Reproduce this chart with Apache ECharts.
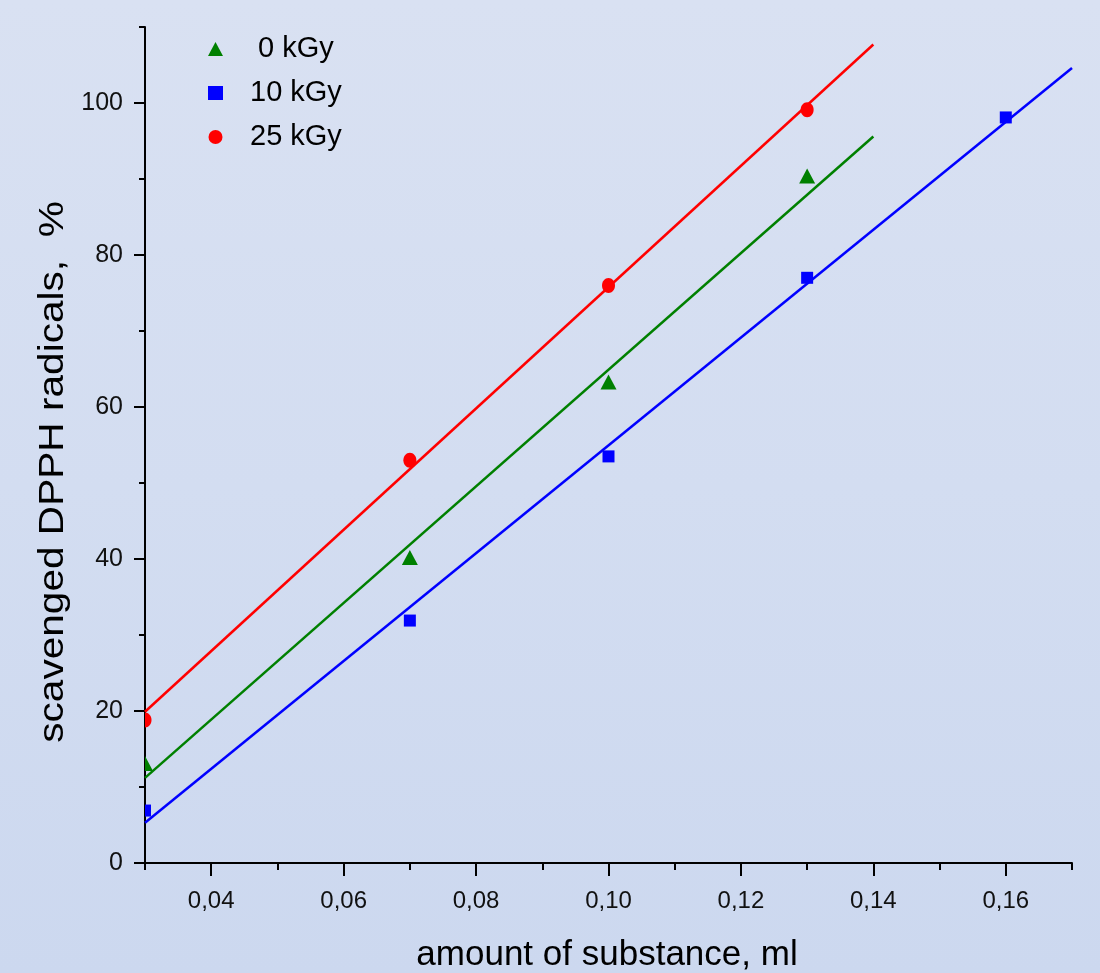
<!DOCTYPE html>
<html>
<head>
<meta charset="utf-8">
<script src="https://cdn.jsdelivr.net/npm/echarts@6/dist/echarts.min.js"></script>
<style>
html,body{margin:0;padding:0;}
#chart{width:1100px;height:973px;background:linear-gradient(180deg,#d9e1f2 0%,#d3ddf1 50%,#ccd8ef 100%);}
</style>
</head>
<body>
<div id="chart"></div>
<script>
// ---- data ----
const seriesNames = ['0 kGy', '10 kGy', '25 kGy'];
const dose0 = [[0.03, 13.1], [0.07, 40.2], [0.10, 63.3], [0.13, 90.4]];
const dose10 = [[0.03, 6.9], [0.07, 31.9], [0.10, 53.5], [0.13, 77.0], [0.16, 98.1]];
const dose25 = [[0.03, 18.8], [0.07, 53.0], [0.10, 76.0], [0.13, 99.1]];
// linear fit lines (endpoints)
const fit0 = [[0.03, 11.2], [0.14, 95.6]];
const fit10 = [[0.03, 5.3], [0.17, 104.6]];
const fit25 = [[0.03, 19.9], [0.14, 107.7]];
// axis ticks
const xMajor = [0.04, 0.06, 0.08, 0.10, 0.12, 0.14, 0.16];
const xMinor = [0.03, 0.05, 0.07, 0.09, 0.11, 0.13, 0.15, 0.17];
const yMajor = [0, 20, 40, 60, 80, 100];
const yMinor = [10, 30, 50, 70, 90, 110];
const xTitle = 'amount of substance, ml';
const yTitle = 'scavenged DPPH radicals,  %';

const colors = ['#008000', '#0000ff', '#ff0000'];
const legendIcons = ['triangle', 'rect', 'circle'];

const chart = echarts.init(document.getElementById('chart'), null, {renderer: 'canvas'});
const sans = '"Liberation Sans", Arial, Helvetica, sans-serif';
const axisLineStyle = {color: '#000', width: 2};

const xMin = 0.03, xMax = 0.17, yMin = 0, yMax = 110;

const scatterData = [dose0, dose10, dose25];
const fitData = [fit0, fit10, fit25];

// marker drawing (clipped to the plot area, like the original)
function makeRender(kind, color) {
  return function (params, api) {
    const p = api.coord([api.value(0), api.value(1)]);
    const style = {fill: color, stroke: null};
    if (kind === 'triangle') {
      const w = 16, h = 15;
      return {type: 'polygon', shape: {points: [[p[0], p[1] - h / 2], [p[0] - w / 2, p[1] + h / 2], [p[0] + w / 2, p[1] + h / 2]]}, style};
    }
    if (kind === 'rect') {
      const s = 12;
      return {type: 'rect', shape: {x: p[0] - s / 2, y: p[1] - s / 2, width: s, height: s}, style};
    }
    return {type: 'ellipse', shape: {cx: p[0], cy: p[1], rx: 6.5, ry: 7.5}, style};
  };
}

const series = [];
fitData.forEach((d, i) => {
  series.push({
    name: seriesNames[i] + ' fit',
    type: 'line',
    data: d,
    symbol: 'none',
    lineStyle: {color: colors[i], width: 2.5},
    silent: true,
    z: 2
  });
});
scatterData.forEach((d, i) => {
  series.push({
    name: seriesNames[i],
    type: 'custom',
    data: d,
    clip: true,
    itemStyle: {color: colors[i]},
    renderItem: makeRender(legendIcons[i], colors[i]),
    z: 3
  });
});

const fmtX = v => Number(v).toFixed(2).replace('.', ',');

const option = {
  backgroundColor: 'transparent',
  animation: false,
  grid: {left: 145, right: 28, top: 27, bottom: 110, containLabel: false},
  legend: {
    data: seriesNames.map((n, i) => ({name: n, icon: legendIcons[i], itemStyle: {color: colors[i]}})),
    orient: 'vertical',
    left: 203,
    top: 29,
    itemWidth: 15,
    itemHeight: 14,
    itemGap: 14,
    formatter: n => (n === '0 kGy' ? '{b|' + n + '}' : '{a|' + n + '}'),
    textStyle: {
      fontFamily: sans, fontSize: 29, color: '#000', lineHeight: 30,
      rich: {
        a: {fontFamily: sans, fontSize: 29, color: '#000', lineHeight: 30, padding: [0, 0, 0, 22]},
        b: {fontFamily: sans, fontSize: 29, color: '#000', lineHeight: 30, padding: [0, 0, 0, 30]}
      }
    }
  },
  xAxis: [
    {
      type: 'value', min: xMin, max: xMax, position: 'bottom',
      axisLine: {show: true, onZero: false, lineStyle: axisLineStyle},
      axisTick: {show: true, inside: false, length: 13, customValues: xMajor, lineStyle: {color: '#000', width: 2}},
      axisLabel: {show: true, customValues: xMajor, formatter: fmtX, margin: 26,
        fontFamily: sans, fontSize: 24, color: '#111'},
      splitLine: {show: false}
    },
    {
      type: 'value', min: xMin, max: xMax, position: 'bottom',
      axisLine: {show: false, onZero: false},
      axisTick: {show: true, inside: false, length: 7, customValues: xMinor, lineStyle: {color: '#000', width: 2}},
      axisLabel: {show: false},
      splitLine: {show: false}
    }
  ],
  yAxis: [
    {
      type: 'value', min: yMin, max: yMax, position: 'left',
      axisLine: {show: true, onZero: false, lineStyle: axisLineStyle},
      axisTick: {show: true, inside: false, length: 11, customValues: yMajor, lineStyle: {color: '#000', width: 2}},
      axisLabel: {show: true, customValues: yMajor, margin: 22,
        fontFamily: sans, fontSize: 25, color: '#111'},
      splitLine: {show: false}
    },
    {
      type: 'value', min: yMin, max: yMax, position: 'left',
      axisLine: {show: false, onZero: false},
      axisTick: {show: true, inside: false, length: 6, customValues: yMinor, lineStyle: {color: '#000', width: 2}},
      axisLabel: {show: false},
      splitLine: {show: false}
    }
  ],
  graphic: [
    {
      type: 'text', silent: true,
      x: 607, y: 955,
      style: {text: xTitle, fontFamily: sans, fontSize: 35, fill: '#000', textAlign: 'center', textVerticalAlign: 'middle'}
    },
    {
      type: 'text', silent: true,
      x: 53, y: 472, rotation: Math.PI / 2, scaleX: 1.16,
      style: {text: yTitle, fontFamily: sans, fontSize: 35, fill: '#000', textAlign: 'center', textVerticalAlign: 'middle'}
    }
  ],
  series: series
};
chart.setOption(option);
</script>
</body>
</html>
